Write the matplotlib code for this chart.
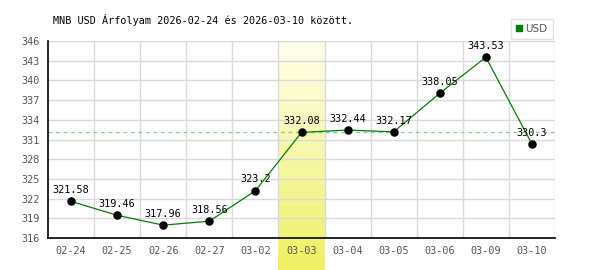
import numpy as np
import matplotlib.pyplot as plt

dates = ["02-24", "02-25", "02-26", "02-27", "03-02", "03-03",
         "03-04", "03-05", "03-06", "03-09", "03-10"]
rates = [321.58, 319.46, 317.96, 318.56, 323.2, 332.08,
         332.44, 332.17, 338.05, 343.53, 330.3]
labels = ["321.58", "319.46", "317.96", "318.56", "323.2", "332.08",
          "332.44", "332.17", "338.05", "343.53", "330.3"]
yticks = [316, 319, 322, 325, 328, 331, 334, 337, 340, 343, 346]
highlight = "03-03"

mono = "DejaVu Sans Mono"
fs = 7.3

fig = plt.figure(figsize=(6, 2.7), dpi=100)
ax = fig.add_axes([0.08, 0.1185, 0.845, 0.7295])

x = np.arange(len(dates))
ymin, ymax = 316, 346

# yellow gradient column, runs down past the axis to the figure bottom
hi = dates.index(highlight)
px_per_unit = ax.get_position().height * 270 / (ymax - ymin)
bottom_units = ymin - ax.get_position().y0 * 270 / px_per_unit
top_c = np.array([1.0, 1.0, 0.93])
bot_c = np.array([0.94, 0.94, 0.38])
t = np.linspace(0, 1, 256)[:, None]
grad = (top_c * (1 - t) + bot_c * t)[:, None, :]
ax.imshow(grad, extent=(hi - 0.5, hi + 0.5, bottom_units, ymax),
          aspect="auto", origin="upper", clip_on=False, zorder=0)
ax.set_xlim(-0.5, len(dates) - 0.5)
ax.set_ylim(ymin, ymax)

# grid
for yy in yticks:
    ax.axhline(yy, color="#d9d9d9", lw=1, zorder=1)
for xx in np.arange(0.5, len(dates), 1):
    ax.axvline(xx, color="#d9d9d9", lw=1, zorder=1)

ax.axhline(rates[hi], color="#80d080", lw=0.9, ls=(0, (3, 3)), zorder=2)

ax.plot(x, rates, color="#008000", lw=0.9, zorder=3, label="USD")
ax.scatter(x, rates, s=26, color="black", zorder=4)
for xi, yi, lab in zip(x, rates, labels):
    ax.annotate(lab, (xi, yi), xytext=(0, 4.5), textcoords="offset points",
                ha="center", va="bottom", fontsize=fs, family=mono,
                color="black", zorder=5)

ax.set_xticks(x)
ax.set_xticklabels(dates, family=mono, fontsize=fs, color="#555555")
ax.set_yticks(yticks)
ax.set_yticklabels([str(v) for v in yticks], family=mono, fontsize=fs,
                   color="#555555")
ax.tick_params(length=0, pad=6)

for side in ["top", "right"]:
    ax.spines[side].set_visible(False)
for side in ["left", "bottom"]:
    ax.spines[side].set_color("black")
    ax.spines[side].set_linewidth(1.2)

fig.text(0.088, 0.925, "MNB USD Árfolyam 2026-02-24 és 2026-03-10 között.",
         family=mono, fontsize=fs, color="black", va="center")

leg = ax.legend(handles=[plt.Line2D([], [], marker="s", ls="none",
                                    color="#008000", markersize=5)],
                labels=["USD"], loc="lower right",
                bbox_to_anchor=(1.0, 1.0), frameon=True, fancybox=False,
                handlelength=0.6, handletextpad=0.3, borderpad=0.5,
                fontsize=7.5, borderaxespad=0.2)
leg.get_frame().set_edgecolor("#d9d9d9")
leg.get_frame().set_linewidth(1)
for txt in leg.get_texts():
    txt.set_color("#555555")

fig.savefig("out.png", dpi=100)
